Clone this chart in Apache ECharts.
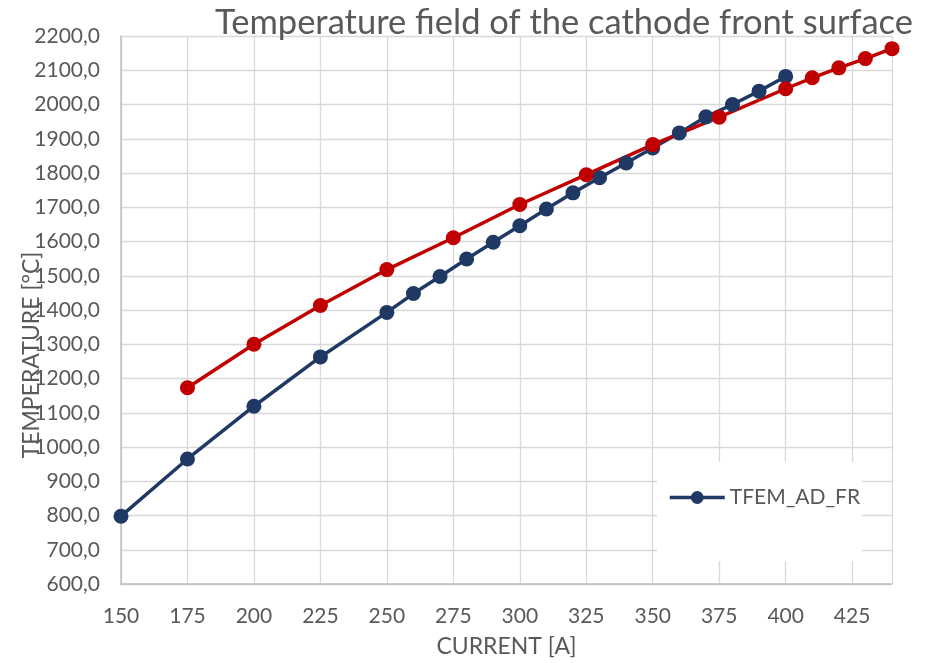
<!DOCTYPE html>
<html>
<head>
<meta charset="utf-8">
<script src="https://cdn.jsdelivr.net/npm/echarts@6/dist/echarts.min.js"></script>
<style>
  html, body { margin: 0; padding: 0; background: #fff; }
  #chart { width: 932px; height: 663px; }
</style>
</head>
<body>
<div id="chart"></div>
<script>
// data
var blueCurrent = [150, 175, 200, 225, 250, 260, 270, 280, 290, 300, 310, 320, 330, 340, 350, 360, 370, 380, 390, 400];
var blueTemp = [798, 965, 1119, 1263, 1393, 1448, 1498, 1549, 1598, 1646, 1695, 1742, 1786, 1829, 1873, 1917, 1964, 2000, 2039, 2082];
var redCurrent = [175, 200, 225, 250, 275, 300, 325, 350, 375, 400, 410, 420, 430, 440];
var redTemp = [1173, 1300, 1413, 1518, 1611, 1708, 1795, 1883, 1963, 2046, 2078, 2107, 2134, 2163];

var titleText = 'Temperature field of the cathode front surface';
var xName = 'CURRENT [A]';
var yName = 'TEMPERATURE [°C]';
var blueName = 'TFEM_AD_FR';
var redName = 'Series2';

var txtColor = '#595959';
var fontName = 'Lato';

function pairs(xs, ys) {
  var res = [];
  for (var i = 0; i < xs.length; i++) {
    res.push([xs[i], ys[i]]);
  }
  return res;
}

var chart = echarts.init(document.getElementById('chart'));

var option = {
  backgroundColor: '#fff',
  animation: false,
  textStyle: { fontFamily: fontName },
  title: {
    text: titleText,
    right: 14,
    top: 0,
    textStyle: {
      color: txtColor,
      fontFamily: fontName,
      fontSize: 34.5,
      fontWeight: 'normal'
    }
  },
  grid: {
    left: 121,
    right: 40,
    top: 36,
    bottom: 79,
    outerBoundsMode: 'none'
  },
  legend: {
    data: [blueName],
    left: 657,
    top: 462,
    orient: 'vertical',
    backgroundColor: '#fff',
    padding: [25, 2, 53, 11],
    itemWidth: 55,
    itemHeight: 16,
    textStyle: { color: txtColor, fontSize: 21, fontFamily: fontName },
    lineStyle: { width: 3.5 }
  },
  xAxis: {
    type: 'value',
    min: 150,
    max: 440,
    interval: 25,
    name: xName,
    nameLocation: 'middle',
    nameGap: 51,
    nameTextStyle: { color: txtColor, fontSize: 23, fontFamily: fontName },
    axisLine: { show: true, lineStyle: { color: '#bfbfbf', width: 1.5 } },
    axisTick: { show: false },
    axisLabel: {
      color: txtColor,
      fontSize: 21,
      margin: 22,
      formatter: function (v) { return v % 25 === 0 ? String(v) : ''; }
    },
    splitLine: { show: true, lineStyle: { color: '#d9d9d9', width: 1.3 } }
  },
  yAxis: {
    type: 'value',
    min: 600,
    max: 2200,
    interval: 100,
    name: yName,
    nameLocation: 'middle',
    nameGap: 78,
    nameMoveOverlap: false,
    nameTextStyle: { color: txtColor, fontSize: 23, fontFamily: fontName, padding: [0, 90, 0, 0] },
    axisLine: { show: true, lineStyle: { color: '#bfbfbf', width: 1.5 } },
    axisTick: { show: false },
    axisLabel: {
      color: txtColor,
      fontSize: 21,
      margin: 21,
      formatter: function (v) { return v.toFixed(1).replace('.', ','); }
    },
    splitLine: { show: true, lineStyle: { color: '#d9d9d9', width: 1.3 } }
  },
  series: [
    {
      name: blueName,
      type: 'line',
      data: pairs(blueCurrent, blueTemp),
      symbol: 'circle',
      symbolSize: 15,
      lineStyle: { color: '#203864', width: 3.5 },
      itemStyle: { color: '#203864' }
    },
    {
      name: redName,
      type: 'line',
      data: pairs(redCurrent, redTemp),
      symbol: 'circle',
      symbolSize: 15,
      lineStyle: { color: '#C00000', width: 3.5 },
      itemStyle: { color: '#C00000' }
    }
  ]
};

chart.setOption(option);
</script>
</body>
</html>
